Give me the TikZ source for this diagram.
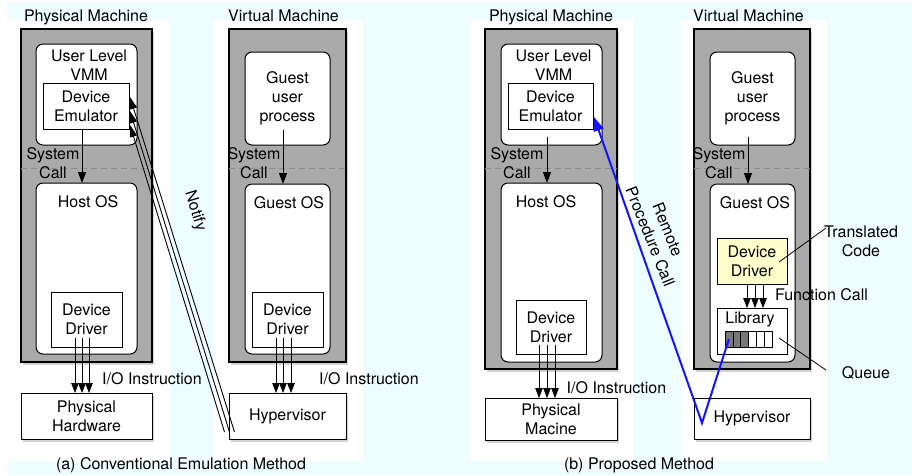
\documentclass[tikz,border=0pt]{standalone}
\usepackage{fontspec}
\setmainfont{TeX Gyre Heros}
\usetikzlibrary{arrows.meta,shadows,calc}
\definecolor{bgcyan}{RGB}{238,254,255}
\definecolor{boxgray}{RGB}{170,170,170}
\definecolor{codeyel}{RGB}{255,255,204}
\definecolor{qgray}{RGB}{120,120,120}
\definecolor{rpcblue}{RGB}{20,20,255}
\definecolor{dashgray}{RGB}{140,140,140}
\tikzset{
  every node/.style={font=\fontsize{16}{19}\selectfont, inner sep=0pt, outer sep=0pt},
  shd/.style={drop shadow={opacity=0.35, shadow xshift=2pt, shadow yshift=-3pt}},
  machine/.style={draw=black, line width=1.1pt, fill=boxgray, shd},
  rbox/.style={draw=black, line width=1pt, fill=white, rounded corners=7pt, align=center},
  sbox/.style={draw=black, line width=1pt, fill=white, align=center},
  codebox/.style={sbox, fill=codeyel},
  hwbox/.style={sbox, shd},
  qcell/.style={draw=black, line width=0.6pt, minimum width=7.83pt, minimum height=16pt},
  lbl/.style={align=center},
  sysline/.style={draw=dashgray, line width=0.8pt, dash pattern=on 6pt off 4pt},
  arr/.style={-{Triangle[length=11pt,width=8pt]}, line width=0.9pt},
  arrthree/.style={-{Triangle[length=10pt,width=7.5pt]}, line width=0.9pt},
  notifyarr/.style={-{Triangle[length=12pt,width=7pt]}, line width=0.9pt},
  rpc/.style={-{Triangle[length=14pt,width=10pt]}, line width=2pt, draw=rpcblue, line join=miter},
  annot/.style={line width=0.8pt}
}
\newcommand\boxnode[7]{%
  \pgfmathsetmacro\bcx{(#3+#5)/2}%
  \pgfmathsetmacro\bcy{(#4+#6)/2}%
  \pgfmathsetmacro\bw{#5-#3}%
  \pgfmathsetmacro\bh{#6-#4}%
  \node[#1, minimum width=\bw pt, minimum height=\bh pt] (#2) at (\bcx,\bcy) {#7};}
\begin{document}
\begin{tikzpicture}[x=1pt,y=-1pt]
\useasboundingbox (0,0) rectangle (912,475);
% background
\fill[white] (0,0) rectangle (912,475);
\fill[bgcyan] (7,3) rectangle (912,475);
\fill[white] (7,20) rectangle (170,461);
\fill[white] (213,20) rectangle (363,461);
\fill[white] (470,20) rectangle (633,461);
\fill[white] (682,20) rectangle (827,461);

% ---------- (a) ----------
\node[anchor=base] (tPA) at (86,21) {Physical Machine};
\node[anchor=base] (tVA) at (283.5,21) {Virtual Machine};
\boxnode{machine}{pmA}{21}{29}{152}{362}{}
\boxnode{machine}{vmA}{229}{29}{346}{362}{}
\draw[sysline] (21,168) -- (152,168);
\draw[sysline] (229,168) -- (346,168);

\boxnode{rbox}{vmmA}{36}{44}{137}{145}{}
\node[lbl] (vmmAt) at (89,65) {User Level\\VMM};
\boxnode{sbox}{emuA}{43}{83}{129}{129}{Device\\Emulator}
\boxnode{rbox}{hostA}{36}{183}{137}{354}{}
\node[anchor=base] (hostAt) at (88,207.5) {Host OS};
\boxnode{sbox}{ddA}{51}{292}{122}{347}{Device\\Driver}
\boxnode{hwbox}{hwA}{21}{393}{152}{439}{Physical\\Hardware}
\node[lbl] (sysA) at (53,163.5) {System\\Call};

\boxnode{rbox}{gupA}{245}{52}{330}{145}{Guest\\user\\process}
\boxnode{rbox}{gosA}{245}{184}{330}{354}{}
\node[anchor=base] (gosAt) at (289,208) {Guest OS};
\boxnode{sbox}{ddA2}{252}{292}{323}{347}{Device\\Driver}
\boxnode{hwbox}{hypA}{229}{393}{346}{439}{Hypervisor}
\node[lbl] (sysA2) at (254,163.5) {System\\Call};

\draw[arr] ($(emuA.south)+(-4,0)$) -- ($(hostA.north -| emuA.south)+(-4,0)$);
\draw[arr] ($(gupA.south)+(-4.5,-15)$) -- ($(gosA.north -| gupA.south)+(-4.5,0)$);
\foreach \dx in {-11.5,-4.5,2.5}
  \draw[arrthree] ($(ddA.south)+(\dx,-9)$) -- ($(hwA.north -| ddA.south)+(\dx,0)$);
\foreach \dx in {-11.5,-4.5,3.5}
  \draw[arrthree] ($(ddA2.south)+(\dx,-9)$) -- ($(hypA.north -| ddA2.south)+(\dx,0)$);
\node[anchor=base] (ioA) at (152,384) {I/O Instruction};
\node[anchor=base] (ioA2) at (369,384) {I/O Instruction};

% Notify
\coordinate (nf0) at (234.5,432);
\coordinate (nf1) at (229.5,432);
\coordinate (nf2) at (224.5,432);
\draw[notifyarr] (nf0) -- ($(emuA.east)+(1,-9)$);
\draw[notifyarr] (nf1) -- ($(emuA.east)+(1,5)$);
\draw[notifyarr] (nf2) -- ($(emuA.east)+(1,19)$);
\node[rotate=-73] (notify) at (195,211) {Notify};

\node[anchor=base] (capA) at (181,469) {(a) Conventional Emulation Method};

% ---------- (b) ----------
\node[anchor=base] (tPB) at (551,21) {Physical Machine};
\node[anchor=base] (tVB) at (748.5,21) {Virtual Machine};
\boxnode{machine}{pmB}{485}{29}{617}{369}{}
\boxnode{machine}{vmB}{694}{29}{810}{369}{}
\draw[sysline] (485,168) -- (617,168);
\draw[sysline] (694,168) -- (810,168);

\boxnode{rbox}{vmmB}{501}{44}{602}{145}{}
\node[lbl] (vmmBt) at (553.5,65) {User Level\\VMM};
\boxnode{sbox}{emuB}{508}{83}{593}{129}{Device\\Emulator}
\boxnode{rbox}{hostB}{501}{183}{602}{362}{}
\node[anchor=base] (hostBt) at (546,207.5) {Host OS};
\boxnode{sbox}{ddB}{516}{300}{586}{354}{Device\\Driver}
\boxnode{hwbox}{hwB}{485}{398}{617}{440}{Physical\\Macine}
\node[lbl] (sysB) at (517,163.5) {System\\Call};

\boxnode{rbox}{gupB}{710}{52}{795}{145}{Guest\\user\\process}
\boxnode{rbox}{gosB}{710}{184}{795}{362}{}
\node[anchor=base] (gosBt) at (755,208) {Guest OS};
\boxnode{codebox}{ddB2}{717}{238}{787}{284}{Device\\Driver}
\boxnode{sbox}{libB}{717}{308}{787}{354}{}
\node[anchor=base] (libBt) at (750,323) {Library};
\foreach \i in {1,2,3} {
  \pgfmathsetmacro\qx{725+7.83*(\i-0.5)}
  \node[qcell, fill=qgray] (q\i) at (\qx,339) {};
}
\foreach \i in {4,5,6} {
  \pgfmathsetmacro\qx{725+7.83*(\i-0.5)}
  \node[qcell, fill=white] (q\i) at (\qx,339) {};
}
\boxnode{hwbox}{hypB}{694}{398}{810}{439}{Hypervisor}
\node[lbl] (sysB2) at (719,163.5) {System\\Call};

\draw[arr] ($(emuB.south)+(-3.5,8)$) -- ($(hostB.north -| emuB.south)+(-3.5,0)$);
\draw[arr] ($(gupB.south)+(-4.5,-8)$) -- ($(gosB.north -| gupB.south)+(-4.5,0)$);
\foreach \dx in {-12,-4,4}
  \draw[arrthree] ($(ddB.south)+(\dx,-9)$) -- ($(hwB.north -| ddB.south)+(\dx,0)$);
\foreach \dx in {-5,3,11}
  \draw[arrthree] (ddB2.south) ++(\dx,0) -- ($(libB.north -| ddB2.south)+(\dx,0)$);
\node[anchor=base] (ioB) at (616.5,393) {I/O Instruction};
\node[anchor=base] (fcall) at (821.5,300.5) {Function Call};

% annotations
\node[lbl] (tcode) at (861,241) {Translated\\Code};
\coordinate (tcStart) at (779,262);
\coordinate (tcEnd) at (826,228);
\draw[annot] (tcStart) -- (tcEnd);
\node[anchor=base] (queue) at (866,378) {Queue};
\coordinate (qStart) at (779,338);
\coordinate (qEnd) at (826,370);
\draw[annot] (qStart) -- (qEnd);

% RPC
\coordinate (rpcV) at (702,423);
\draw[rpc] (q1.center) -- (rpcV) -- ($(emuB.east)+(1,11)$);
\node[lbl, rotate=-68] (rpclbl) at (659,233) {Remote\\Procedure Call};

\node[anchor=base] (capB) at (639,469) {(b) Proposed Method};
\end{tikzpicture}
\end{document}
